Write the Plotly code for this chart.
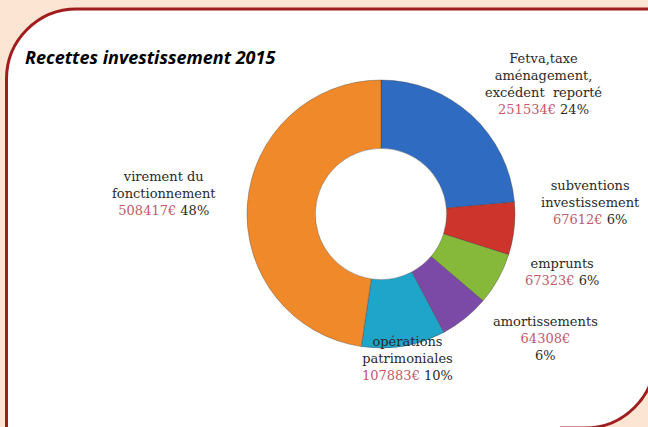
import plotly.graph_objects as go

# ---- data ----
categories = ["Fetva,taxe<br>aménagement,<br>excédent  reporté",
              "subventions<br>investissement",
              "emprunts",
              "amortissements",
              "opérations<br>patrimoniales",
              "virement du<br>fonctionnement"]
values = [251534, 67612, 67323, 64308, 107883, 508417]
colors = ["#2f6bc0", "#cc342c", "#86b83a", "#7a4aa6", "#1fa5c9", "#f0892a"]
title_text = "Recettes investissement 2015"

W, H = 648, 427
total = sum(values)
pcts = [round(v / total * 100) for v in values]

fig = go.Figure()

# pie centred at (381, 214) px, radius 134 px
cx, cy, r = 381, 214, 134
fig.add_trace(go.Pie(
    values=values,
    labels=[c.replace("<br>", " ") for c in categories],
    marker=dict(colors=colors, line=dict(color="rgba(60,60,60,0.35)", width=1)),
    hole=0.49,
    sort=False,
    direction="clockwise",
    rotation=0,
    textinfo="none",
    hoverinfo="label+value+percent",
    showlegend=False,
    domain=dict(x=[(cx - r) / W, (cx + r) / W], y=[(H - cy - r) / H, (H - cy + r) / H]),
))

# hidden pixel axes for shapes/annotations
fig.update_xaxes(range=[0, W], visible=False, fixedrange=True)
fig.update_yaxes(range=[H, 0], visible=False, fixedrange=True)

k = 0.5523 * 70
# white panel
panel = (f"M 6.5 440 L 6.5 79 C 6.5 {79-k} {76.5-k} 9 76.5 9 L 655 9 L 655 358 "
         f"C 655 {358+k} {585+k} 428 585 428 L 585 440 Z")
fig.add_shape(type="path", path=panel, xref="x", yref="y",
              fillcolor="white", line=dict(width=0), layer="below")
border1 = (f"M 6.5 440 L 6.5 79 C 6.5 {79-k} {76.5-k} 9 76.5 9 L 660 9")
border2 = (f"M 655 300 L 655 358 C 655 {358+k} {585+k} 428 585 428 L 560 428")
for p in (border1, border2):
    fig.add_shape(type="path", path=p, xref="x", yref="y",
                  line=dict(color="#a11d1d", width=3), layer="below")

# title
fig.add_annotation(x=23, y=57, xref="x", yref="y", text=f"<b><i>{title_text}</i></b>",
                   showarrow=False, xanchor="left", yanchor="middle",
                   font=dict(family="Open Sans", size=18, color="#000000"))

# labels
label_pos = [(543, 84), (590, 202), (562, 272), (545, 338), (407, 358), (164, 193)]
val_color = "#c25a6a"
for i, (name, v, p) in enumerate(zip(categories, values, pcts)):
    if i == 3:
        txt = f"{name}<br><span style='color:{val_color}'>{v}€</span><br>{p}%"
    else:
        txt = f"{name}<br><span style='color:{val_color}'>{v}€</span> {p}%"
    x, y = label_pos[i]
    fig.add_annotation(x=x, y=y, xref="x", yref="y", text=txt, showarrow=False,
                       xanchor="center", yanchor="middle", align="center",
                       font=dict(family="DejaVu Serif", size=13, color="#2a2a2a"))

fig.update_layout(
    width=W, height=H,
    margin=dict(l=0, r=0, t=0, b=0),
    paper_bgcolor="#fce5d2",
    plot_bgcolor="rgba(0,0,0,0)",
)

fig.write_html("out.html", config={"displayModeBar": False},
               post_script="document.body.style.margin='0';document.body.style.overflow='hidden';")
